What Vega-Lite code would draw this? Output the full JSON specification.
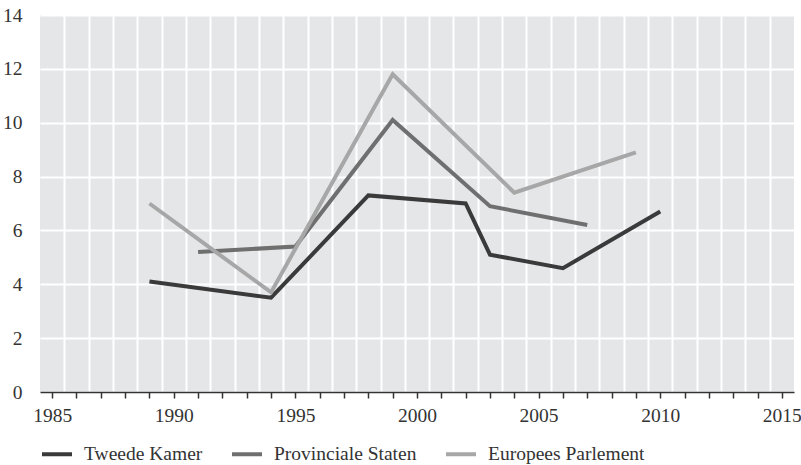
{
  "$schema": "https://vega.github.io/schema/vega-lite/v6.json",
  "width": 754,
  "height": 377,
  "autosize": {"type": "none"},
  "padding": {"left": 40, "top": 15, "right": 7, "bottom": 73},
  "background": "white",
  "config": {
    "view": {"fill": "#e5e6e8", "stroke": null},
    "font": "Liberation Serif",
    "axis": {"labelFont": "Liberation Serif", "labelFontSize": 19.5, "labelColor": "#333333", "title": null},
    "legend": {"labelFont": "Liberation Serif", "labelFontSize": 19.5, "labelColor": "#333333", "labelLimit": 400}
  },
  "data": {
    "values": [
      {"jaar": 1989, "waarde": 4.1, "serie": "Tweede Kamer"},
      {"jaar": 1994, "waarde": 3.5, "serie": "Tweede Kamer"},
      {"jaar": 1998, "waarde": 7.3, "serie": "Tweede Kamer"},
      {"jaar": 2002, "waarde": 7.0, "serie": "Tweede Kamer"},
      {"jaar": 2003, "waarde": 5.1, "serie": "Tweede Kamer"},
      {"jaar": 2006, "waarde": 4.6, "serie": "Tweede Kamer"},
      {"jaar": 2010, "waarde": 6.7, "serie": "Tweede Kamer"},
      {"jaar": 1991, "waarde": 5.2, "serie": "Provinciale Staten"},
      {"jaar": 1995, "waarde": 5.4, "serie": "Provinciale Staten"},
      {"jaar": 1999, "waarde": 10.1, "serie": "Provinciale Staten"},
      {"jaar": 2003, "waarde": 6.9, "serie": "Provinciale Staten"},
      {"jaar": 2007, "waarde": 6.2, "serie": "Provinciale Staten"},
      {"jaar": 1989, "waarde": 7.0, "serie": "Europees Parlement"},
      {"jaar": 1994, "waarde": 3.7, "serie": "Europees Parlement"},
      {"jaar": 1999, "waarde": 11.8, "serie": "Europees Parlement"},
      {"jaar": 2004, "waarde": 7.4, "serie": "Europees Parlement"},
      {"jaar": 2009, "waarde": 8.9, "serie": "Europees Parlement"}
    ]
  },
  "layer": [
    {
      "mark": {"type": "line", "strokeOpacity": 0},
      "encoding": {
        "x": {
          "field": "jaar", "type": "quantitative",
          "scale": {"domain": [1984.5, 2015.5], "nice": false, "zero": false},
          "axis": {
            "orient": "bottom",
            "values": [1985.5, 1986.5, 1987.5, 1988.5, 1989.5, 1990.5, 1991.5, 1992.5, 1993.5, 1994.5, 1995.5, 1996.5, 1997.5, 1998.5, 1999.5, 2000.5, 2001.5, 2002.5, 2003.5, 2004.5, 2005.5, 2006.5, 2007.5, 2008.5, 2009.5, 2010.5, 2011.5, 2012.5, 2013.5, 2014.5],
            "grid": true, "gridColor": "#ffffff", "gridWidth": 2, "gridOpacity": 1,
            "labels": false, "ticks": false, "domain": false
          }
        },
        "y": {
          "field": "waarde", "type": "quantitative",
          "scale": {"domain": [0, 14], "nice": false},
          "axis": {
            "values": [0, 2, 4, 6, 8, 10, 12, 14],
            "grid": true, "gridColor": "#ffffff", "gridWidth": 2, "gridOpacity": 1,
            "ticks": false, "tickSize": 0, "domain": false, "labelPadding": 18,
            "labelFont": "Liberation Serif", "labelFontSize": 19.5, "labelColor": "#333333"
          }
        },
        "detail": {"field": "serie"}
      }
    },
    {
      "mark": {"type": "line", "strokeWidth": 4, "strokeCap": "butt", "strokeJoin": "miter"},
      "encoding": {
        "x": {
          "field": "jaar", "type": "quantitative",
          "axis": {
            "orient": "bottom",
            "values": [1985, 1986, 1987, 1988, 1989, 1990, 1991, 1992, 1993, 1994, 1995, 1996, 1997, 1998, 1999, 2000, 2001, 2002, 2003, 2004, 2005, 2006, 2007, 2008, 2009, 2010, 2011, 2012, 2013, 2014, 2015],
            "labelExpr": "datum.value % 5 === 0 ? datum.value : ''",
            "format": "d",
            "grid": false, "domain": true, "domainColor": "#333333", "domainWidth": 1.5,
            "ticks": true, "tickColor": "#333333", "tickWidth": 1.5, "tickSize": 6,
            "labelPadding": 8, "labelFlush": false, "labelOverlap": false,
            "labelFont": "Liberation Serif", "labelFontSize": 19.5, "labelColor": "#333333"
          }
        },
        "y": {"field": "waarde", "type": "quantitative"},
        "color": {
          "field": "serie", "type": "nominal",
          "sort": ["Tweede Kamer", "Provinciale Staten", "Europees Parlement"],
          "scale": {"domain": ["Tweede Kamer", "Provinciale Staten", "Europees Parlement"], "range": ["#3a3a3a", "#6f6f6f", "#a7a7a7"]},
          "legend": {
            "title": null, "orient": "bottom", "direction": "horizontal",
            "symbolType": "stroke", "symbolSize": 900, "symbolStrokeWidth": 4,
            "labelOffset": 10, "columnPadding": 21, "offset": 12
          }
        }
      }
    }
  ],
  "resolve": {"axis": {"x": "independent"}}
}
